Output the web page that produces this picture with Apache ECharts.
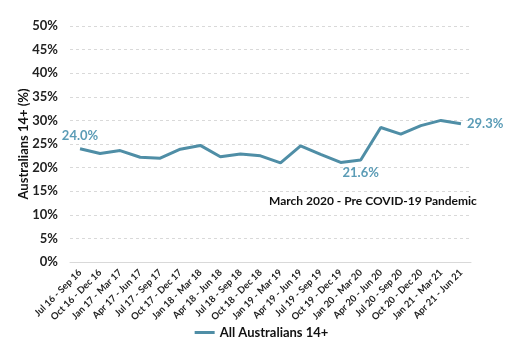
<!DOCTYPE html>
<html>
<head>
<meta charset="utf-8">
<script src="https://cdn.jsdelivr.net/npm/echarts@6/dist/echarts.min.js"></script>
<style>
  html, body { margin: 0; padding: 0; background: #fff; }
  #chart { width: 523px; height: 350px; }
</style>
</head>
<body>
<div id="chart"></div>
<script>
var categories = ['Jul 16 - Sep 16', 'Oct 16 - Dec 16', 'Jan 17 - Mar 17', 'Apr 17 - Jun 17',
    'Jul 17 - Sep 17', 'Oct 17 - Dec 17', 'Jan 18 - Mar 18', 'Apr 18 - Jun 18',
    'Jul 18 - Sep 18', 'Oct 18 - Dec 18', 'Jan 19 - Mar 19', 'Apr 19 - Jun 19',
    'Jul 19 - Sep 19', 'Oct 19 - Dec 19', 'Jan 20 - Mar 20', 'Apr 20 - Jun 20',
    'Jul 20 - Sep 20', 'Oct 20 - Dec 20', 'Jan 21 - Mar 21', 'Apr 21 - Jun 21'];
var values = [24.0, 23.0, 23.6, 22.2, 22.0, 23.9, 24.7, 22.3, 22.9, 22.5,
    21.0, 24.6, 22.8, 21.1, 21.6, 28.5, 27.1, 28.9, 30.0, 29.3];
var labelled = {0: 'top', 14: 'bottom', 19: 'right'};
var seriesName = 'All Australians 14+';
var note = 'March 2020 - Pre COVID-19 Pandemic';

var font = 'Lato, "Open Sans", sans-serif';
var lineColor = '#4f8ea6';
var labelColor = '#5b9cb6';

var seriesData = values.map(function (v, i) {
    if (labelled[i] === undefined) return v;
    return {
        value: v,
        label: {
            show: true,
            position: labelled[i],
            distance: 6,
            formatter: function (p) { return p.value.toFixed(1) + '%'; },
            color: labelColor,
            fontSize: 13,
            fontWeight: 'bold',
            fontFamily: font
        }
    };
});

var myChart = echarts.init(document.getElementById('chart'));
var option = {
    animation: false,
    grid: { left: 70, right: 52, top: 26, bottom: 88 },
    legend: {
        data: [seriesName],
        bottom: 6,
        left: 'center',
        icon: 'rect',
        itemWidth: 20,
        itemHeight: 3,
        itemGap: 4,
        textStyle: { color: '#111', fontSize: 13, fontWeight: 'bold', fontFamily: font }
    },
    xAxis: {
        type: 'category',
        data: categories,
        boundaryGap: true,
        axisLine: { show: true, lineStyle: { color: '#d9d9d9' } },
        axisTick: { show: false },
        axisLabel: {
            rotate: 45,
            interval: 0,
            fontSize: 9.5,
            fontWeight: 'bold',
            fontFamily: font,
            color: '#222',
            margin: 9
        }
    },
    yAxis: {
        type: 'value',
        min: 0,
        max: 50,
        interval: 5,
        name: 'Australians 14+ (%)',
        nameLocation: 'middle',
        nameGap: 40,
        nameMoveOverlap: false,
        nameTextStyle: { color: '#111', fontSize: 13, fontWeight: 'bold', fontFamily: font },
        axisLine: { show: false },
        axisTick: { show: false },
        axisLabel: {
            formatter: '{value}%',
            fontSize: 13,
            fontWeight: 'bold',
            fontFamily: font,
            color: '#222',
            margin: 12
        },
        splitLine: { lineStyle: { color: '#d9d9d9', type: [3, 3] } }
    },
    graphic: [{
        type: 'text',
        left: 269,
        top: 195,
        style: {
            text: note,
            fill: '#111',
            font: 'bold 12px ' + font
        }
    }],
    series: [{
        name: seriesName,
        type: 'line',
        data: seriesData,
        symbol: 'circle',
        symbolSize: 0,
        showSymbol: true,
        lineStyle: { color: lineColor, width: 3 },
        itemStyle: { color: lineColor }
    }]
};
myChart.setOption(option);
</script>
</body>
</html>
